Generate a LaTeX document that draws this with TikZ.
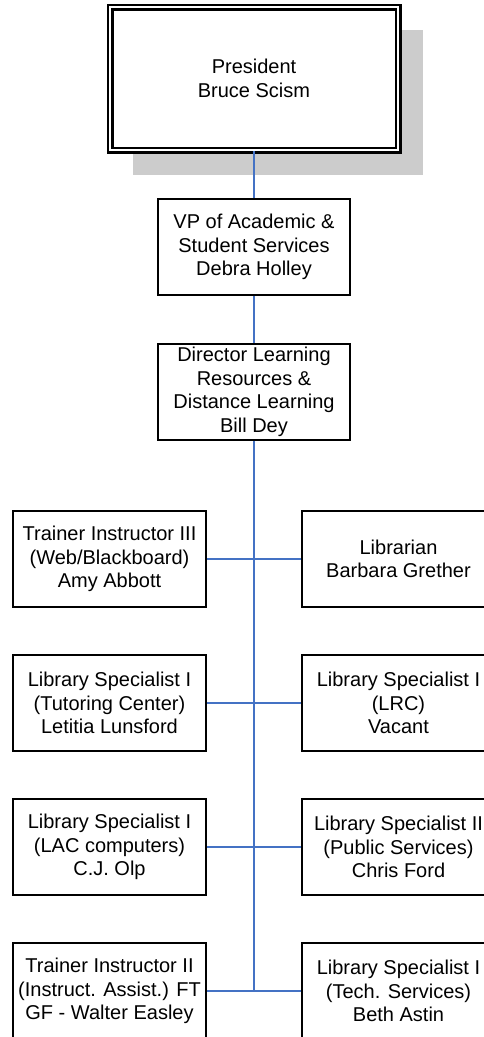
\documentclass[tikz,border=0pt]{standalone}
\usepackage{fontspec}
\setmainfont{Liberation Sans}
\definecolor{linkblue}{RGB}{68,114,196}
\definecolor{shadowgray}{RGB}{204,204,204}
\begin{document}
\begin{tikzpicture}[x=1pt,y=-1pt,
  box/.style={draw=black,line width=1.6pt,fill=white,minimum width=193pt,minimum height=96pt,
    inner sep=0pt,align=center,font=\fontsize{20pt}{23.5pt}\selectfont},
  link/.style={draw=linkblue,line width=2pt}]
\useasboundingbox (0,0) rectangle (483,1037);
% President
\fill[shadowgray] (133,30) rectangle (423,175);
\node[box,line width=2.2pt,minimum width=288pt,minimum height=143pt,
  double distance=2.6pt,double=white] (pres) at (254,78.5) {President\\Bruce Scism};
\node[box,minimum width=192pt] (vp) at (254,247) {VP of Academic \&\\Student Services\\Debra Holley};
\node[box,minimum width=192pt] (dir) at (254,392) {Director Learning\\Resources \&\\Distance Learning\\Bill Dey};
% rows
\node[box] (l1) at (109.5,559) {Trainer Instructor III\\(Web/Blackboard)\\Amy Abbott};
\node[box] (r1) at (398.5,559) {Librarian\\Barbara Grether};
\node[box] (l2) at (109.5,703) {Library Specialist I\\(Tutoring Center)\\Letitia Lunsford};
\node[box] (r2) at (398.5,703) {Library Specialist I\\(LRC)\\Vacant};
\node[box] (l3) at (109.5,847) {Library Specialist I\\(LAC computers)\\C.J. Olp};
\node[box] (r3) at (398.5,847) {Library Specialist II\\(Public Services)\\Chris Ford};
\node[box] (l4) at (109.5,991) {Trainer Instructor II\\(Instruct. Assist.) FT\\GF - Walter Easley};
\node[box] (r4) at (398.5,991) {Library Specialist I\\(Tech. Services)\\Beth Astin};
\coordinate (trunkend) at (254,991);
% connectors
\draw[link] (pres.south) -- (vp.north);
\draw[link] (vp.south) -- (dir.north);
\draw[link] (dir.south) -- (trunkend);
\draw[link] (l1.east) -- (r1.west);
\draw[link] (l2.east) -- (r2.west);
\draw[link] (l3.east) -- (r3.west);
\draw[link] (l4.east) -- (r4.west);
\end{tikzpicture}
\end{document}
